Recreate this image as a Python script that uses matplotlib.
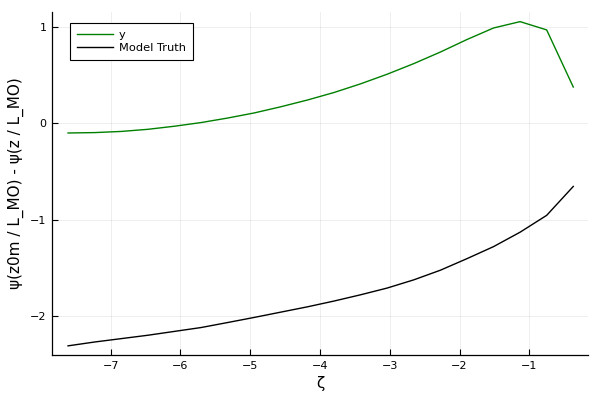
import numpy as np
import matplotlib
matplotlib.use('Agg')
import matplotlib.pyplot as plt

# dati
zeta = [-7.610, -7.229, -6.848, -6.467, -6.086, -5.705, -5.324, -4.943, -4.562, -4.181,
        -3.800, -3.419, -3.038, -2.657, -2.276, -1.895, -1.514, -1.133, -0.752, -0.371]
y_fit = [-0.100, -0.096, -0.084, -0.062, -0.030, 0.008, 0.055, 0.108, 0.172, 0.242,
         0.320, 0.410, 0.510, 0.620, 0.740, 0.870, 0.990, 1.056, 0.970, 0.377]
y_truth = [-2.310, -2.270, -2.235, -2.200, -2.160, -2.120, -2.068, -2.015, -1.960, -1.905,
           -1.845, -1.780, -1.710, -1.625, -1.525, -1.405, -1.280, -1.130, -0.955, -0.655]
x_ticks = [-7, -6, -5, -4, -3, -2, -1]
y_ticks = [-2, -1, 0, 1]

fig = plt.figure(figsize=(6, 4), dpi=100)
ax = fig.add_axes([52/600, 1-355/400, (588-52)/600, (355-12)/400])

ax.plot(zeta, y_fit, color='#008000', linewidth=1, label='y')
ax.plot(zeta, y_truth, color='black', linewidth=1, label='Model Truth')

ax.set_xlim(-7.84, -0.16)
ax.set_ylim(-2.405, 1.156)
ax.set_xticks(x_ticks)
ax.set_yticks(y_ticks)
ax.set_xticklabels(['\u2212' + str(-t) for t in x_ticks])
ax.set_yticklabels([('\u2212' + str(-t)) if t < 0 else str(t) for t in y_ticks])
ax.grid(True, color='black', alpha=0.08, linewidth=0.6)
ax.tick_params(direction='in', length=4, width=0.8, labelsize=8, colors='black', pad=4)
for s in ['top', 'right']:
    ax.spines[s].set_visible(False)
for s in ['left', 'bottom']:
    ax.spines[s].set_linewidth(0.9)

ax.set_xlabel('\u03b6', fontsize=11, labelpad=4)
ax.set_ylabel('\u03c8(z0m / L_MO) - \u03c8(z / L_MO)', fontsize=11, labelpad=4)

leg = ax.legend(loc='upper left', bbox_to_anchor=(70/600, 1-23/400), bbox_transform=fig.transFigure,
                borderaxespad=0, fontsize=8.2, fancybox=False, framealpha=1, edgecolor='black',
                handlelength=3.2, handletextpad=0.5, borderpad=0.6, labelspacing=0.25)
leg.get_frame().set_linewidth(0.8)

fig.savefig('out.png', dpi=100)
